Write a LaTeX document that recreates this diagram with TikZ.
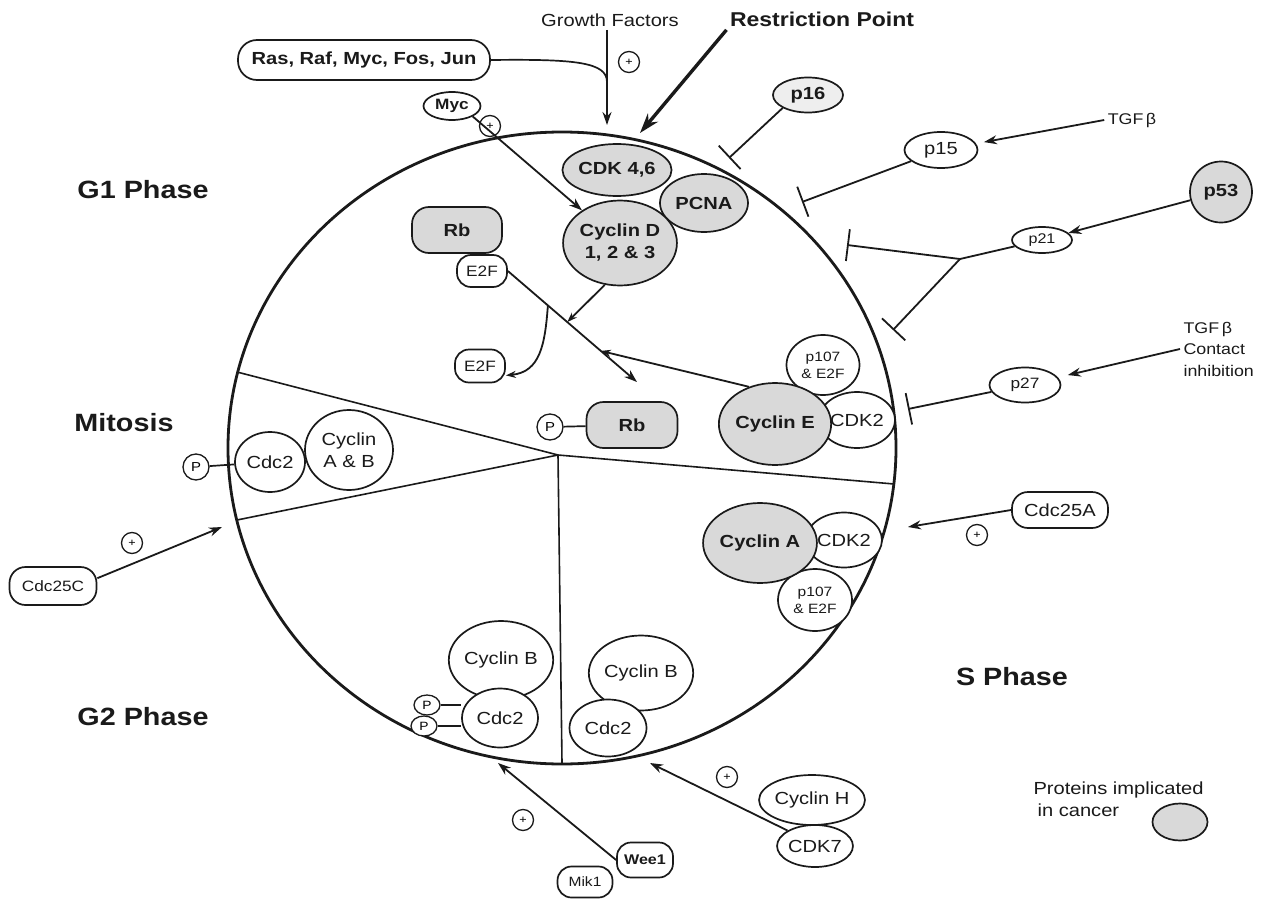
\documentclass[tikz,border=0pt]{standalone}
\usepackage{fontspec}
\setmainfont{Liberation Sans}[FakeStretch=1.15]
\usetikzlibrary{shapes.geometric,arrows.meta,calc}
\definecolor{ink}{HTML}{1A1A1A}
\definecolor{cancerFill}{HTML}{D9D9D9}
\definecolor{paleFill}{HTML}{EEEEEE}
\newcommand{\phasesize}{\fontsize{25}{28}\selectfont}
\newcommand{\midsize}{\fontsize{17.5}{22}\selectfont}
\newcommand{\smallsize}{\fontsize{15}{18}\selectfont}
\newcommand{\tinysize}{\fontsize{11}{12}\selectfont}
\tikzset{
  protein/.style={
    ellipse,
    draw=ink,
    fill=white,
    line width=1.7pt,
    inner sep=0pt,
    align=center,
    font=\midsize,
    text=ink
  },
  cancer protein/.style={
    protein,
    fill=cancerFill,
    font=\midsize\bfseries
  },
  factor box/.style={
    rectangle,
    rounded corners=14pt,
    draw=ink,
    fill=white,
    line width=1.7pt,
    inner sep=0pt,
    align=center,
    font=\smallsize,
    text=ink
  },
  plus mark/.style={
    circle,
    draw=ink,
    line width=1.3pt,
    minimum size=21pt,
    inner sep=0pt,
    font=\tinysize
  },
  phos mark/.style={
    circle,
    draw=ink,
    fill=white,
    line width=1.3pt,
    minimum size=26pt,
    inner sep=0pt,
    font=\fontsize{13}{14}\selectfont
  },
  phase label/.style={
    font=\phasesize\bfseries,
    text=ink
  },
  plain label/.style={
    font=\midsize,
    text=ink,
    align=left
  },
  activate edge/.style={
    -{Stealth[length=13pt,width=9pt]},
    draw=ink,
    line width=1.8pt
  },
  small activate/.style={
    activate edge,
    -{Stealth[length=10pt,width=7pt]}
  },
  inhibit edge/.style={
    -{Bar[width=32pt]},
    draw=ink,
    line width=1.8pt
  },
  bind line/.style={
    draw=ink,
    line width=1.7pt
  },
  cell wall/.style={
    draw=ink,
    line width=2.8pt
  },
  sector line/.style={
    draw=ink,
    line width=1.6pt
  }
}

\begin{document}
\begin{tikzpicture}[x=1pt,y=-1pt]
  \fill[white] (0,0) rectangle (1278,902);
  \useasboundingbox (0,0) rectangle (1278,902);

  % the cycle wheel
  \coordinate (hub) at (558,455);
  \coordinate (rimG1) at (237,372);
  \coordinate (rimM) at (237,520);
  \coordinate (rimG2) at (562,763);
  \coordinate (rimS) at (894,484);
  \draw[sector line] (hub) -- (rimG1) (hub) -- (rimM) (hub) -- (rimG2) (hub) -- (rimS);
  \draw[cell wall] (562,448) ellipse [x radius=334pt, y radius=316pt];

  \node[phase label] (g1) at (143,190) {G1 Phase};
  \node[phase label] (mit) at (124,423) {Mitosis};
  \node[phase label] (g2) at (143,717) {G2 Phase};
  \node[phase label] (sph) at (1012,677) {S Phase};

  % G1 entry signals
  \node[plain label] (gf) at (610,20) {Growth Factors};
  \node[font=\fontsize{20}{22}\selectfont\bfseries, text=ink] (rp) at (822,19) {Restriction Point};
  \node[factor box, font=\midsize\bfseries, minimum width=252pt, minimum height=40pt, rounded corners=19pt] (ras) at (364,60) {Ras, Raf, Myc, Fos, Jun};
  \node[protein, font=\fontsize{15}{16}\selectfont\bfseries, minimum width=57pt, minimum height=28pt] (myc) at (452,106) {Myc};
  \node[plus mark] (plusGf) at (629,62) {+};
  \node[plus mark] (plusMyc) at (490,126) {+};
  \coordinate (gfJoin) at (607,82);
  \coordinate (gfEnd) at (607,125);
  \coordinate (rpEnd) at (640,133);
  \draw[activate edge] (gf.south -| gfEnd) -- (gfEnd);
  \draw[bind line] (ras.east) .. controls (575,59) and (607,62) .. (gfJoin);
  \draw[-{Stealth[length=20pt,width=13pt]}, draw=ink, line width=3.4pt] (rp.south west) -- (rpEnd);

  \node[cancer protein, minimum width=88pt, minimum height=58pt] (pcna) at (704,203) {PCNA};
  \node[cancer protein, minimum width=100pt, minimum height=52pt] (cdk46) at (617,170) {CDK 4,6};
  \node[cancer protein, minimum width=106pt, minimum height=85pt] (cycD) at (620,243) {Cyclin D\\1, 2 \& 3};
  \draw[activate edge] (myc.south east) -- (cycD);

  % inhibitors
  \node[protein, font=\midsize\bfseries, fill=paleFill, minimum width=70pt, minimum height=35pt] (p16) at (808,95) {p16};
  \node[protein, minimum width=73pt, minimum height=36pt] (p15) at (941,150) {p15};
  \node[plain label, font=\fontsize{15.5}{18}\selectfont] (tgfA) at (1132,120) {TGF\,β};
  \node[cancer protein, minimum width=62pt, minimum height=61pt] (p53) at (1221,192) {p53};
  \node[protein, font=\fontsize{14}{16}\selectfont, minimum width=60pt, minimum height=26pt] (p21) at (1042,240) {p21};
  \node[protein, font=\fontsize{15}{17}\selectfont, minimum width=71pt, minimum height=35pt] (p27) at (1025,385) {p27};
  \node[plain label, font=\fontsize{15.5}{21.5}\selectfont, anchor=west] (tgfB) at (1180,349) {TGF\,β\\Contact\\inhibition};
  \coordinate (p16Bar) at (729,158);
  \coordinate (p15Bar) at (802,202);
  \coordinate (p21Fork) at (960,259);
  \coordinate (p21BarA) at (847,245);
  \coordinate (p21BarB) at (893,330);
  \coordinate (p27Bar) at (908,409);
  \draw[inhibit edge] (p16.south west) -- (p16Bar);
  \draw[inhibit edge] (p15) -- (p15Bar);
  \draw[bind line, line width=1.8pt] (p21) -- (p21Fork);
  \draw[inhibit edge] (p21Fork) -- (p21BarA);
  \draw[inhibit edge] (p21Fork) -- (p21BarB);
  \draw[inhibit edge] (p27) -- (p27Bar);
  \draw[activate edge, shorten >=8pt] (tgfA.west) -- (p15);
  \draw[activate edge] (p53) -- (p21);
  \draw[activate edge, shorten >=10pt] (tgfB.west) -- (p27);

  % Rb and E2F
  \node[factor box, fill=cancerFill, font=\midsize\bfseries, minimum width=90pt, minimum height=46pt, rounded corners=17pt] (rbA) at (457,230) {Rb};
  \node[factor box, minimum width=50pt, minimum height=32pt] (e2fA) at (482,271) {E2F};
  \node[factor box, minimum width=50pt, minimum height=33pt] (e2fB) at (480,366) {E2F};
  \coordinate (rbEnd) at (637,382);
  \coordinate (cdMeet) at ($(e2fA.east)!0.46!(rbEnd)$);
  \coordinate (e2fLeave) at ($(e2fA.east)!0.31!(rbEnd)$);
  \coordinate (ceMeet) at ($(e2fA.east)!0.72!(rbEnd)$);
  \draw[activate edge] (e2fA.east) -- (rbEnd);
  \draw[small activate] (cycD.250) -- (cdMeet);
  \draw[small activate] (e2fLeave) .. controls (545,345) and (540,372) .. (e2fB.-20);

  \node[factor box, fill=cancerFill, font=\midsize\bfseries, minimum width=91pt, minimum height=46pt, rounded corners=17pt] (rbB) at (632,425) {Rb};
  \node[phos mark] (pRb) at (550,427) {P};
  \draw[bind line] (pRb) -- (rbB);

  % Cyclin E and Cyclin A
  \node[protein, font=\fontsize{13.5}{17}\selectfont, minimum width=73pt, minimum height=60pt] (p107E) at (823,365) {p107\\\& E2F};
  \node[protein, minimum width=71pt, minimum height=56pt] (cdk2E) at (857,420) {CDK2};
  \node[cancer protein, minimum width=94pt, minimum height=82pt] (cycE) at (775,424) {Cyclin E};
  \draw[small activate] (cycE.125) -- (ceMeet);

  \node[protein, minimum width=72pt, minimum height=55pt] (cdk2A) at (844,540) {CDK2};
  \node[protein, font=\fontsize{13.5}{17}\selectfont, minimum width=74pt, minimum height=62pt] (p107A) at (815,600) {p107\\\& E2F};
  \node[cancer protein, minimum width=95pt, minimum height=80pt] (cycA) at (760,543) {Cyclin A};
  \node[factor box, font=\midsize, minimum width=96pt, minimum height=36pt, rounded corners=16pt] (cdc25A) at (1060,510) {Cdc25A};
  \node[plus mark] (plusA) at (977,535) {+};
  \coordinate (cdc25AEnd) at (908,527);
  \draw[activate edge] (cdc25A.west) -- (cdc25AEnd);

  % mitosis
  \node[protein, minimum width=70pt, minimum height=60pt] (cdc2M) at (270,462) {Cdc2};
  \node[protein, minimum width=88pt, minimum height=80pt] (cycAB) at (349,450) {Cyclin\\A \& B};
  \node[phos mark] (pM) at (196,467) {P};
  \draw[bind line] (pM) -- (cdc2M);
  \node[factor box, font=\smallsize, minimum width=87pt, minimum height=38pt, rounded corners=16pt] (cdc25C) at (53,586) {Cdc25C};
  \node[plus mark] (plusC) at (132,543) {+};
  \coordinate (cdc25CEnd) at (222,527);
  \draw[activate edge] (cdc25C.10) -- (cdc25CEnd);

  % G2
  \node[protein, minimum width=96pt, minimum height=78pt] (cycBL) at (501,660) {Cyclin B};
  \node[protein, minimum width=76pt, minimum height=59pt] (cdc2L) at (500,718) {Cdc2};
  \node[phos mark, ellipse, minimum width=26pt, minimum height=20pt, font=\fontsize{12}{13}\selectfont] (pG2a) at (427,705) {P};
  \node[phos mark, ellipse, minimum width=26pt, minimum height=20pt, font=\fontsize{12}{13}\selectfont] (pG2b) at (424,726) {P};
  \draw[bind line] (pG2a) -- (pG2a -| cdc2L.west);
  \draw[bind line] (pG2b) -- (pG2b -| cdc2L.west);
  \node[protein, minimum width=98pt, minimum height=75pt] (cycBR) at (641,673) {Cyclin B};
  \node[protein, minimum width=77pt, minimum height=57pt] (cdc2R) at (608,728) {Cdc2};

  \node[factor box, font=\fontsize{13.5}{15}\selectfont, minimum width=55pt, minimum height=31pt] (mik1) at (585,882) {Mik1};
  \node[factor box, font=\fontsize{14}{15}\selectfont\bfseries, minimum width=56pt, minimum height=35pt] (wee1) at (645,860) {Wee1};
  \node[plus mark] (plusWee) at (523,820) {+};
  \coordinate (weeEnd) at (498,763);
  \draw[activate edge] (wee1.west) -- (weeEnd);

  \node[protein, minimum width=88pt, minimum height=50pt] (cycH) at (812,800) {Cyclin H};
  \node[protein, minimum width=70pt, minimum height=42pt] (cdk7) at (815,846) {CDK7};
  \node[plus mark] (plusCak) at (727,777) {+};
  \coordinate (cakEnd) at (650,763);
  \draw[activate edge] (cdk7.north west) -- (cakEnd);

  % legend
  \node[plain label, font=\fontsize{17.5}{22}\selectfont, anchor=west] (legText) at (1030,799) {Proteins implicated\\\hspace*{4pt}in cancer};
  \node[cancer protein, minimum width=55pt, minimum height=37pt] (legKey) at (1180,822) {};
\end{tikzpicture}
\end{document}
